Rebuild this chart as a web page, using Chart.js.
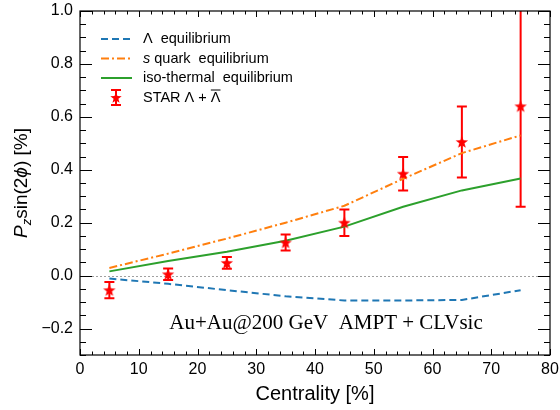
<!DOCTYPE html>
<html lang="en">
<head>
<meta charset="UTF-8">
<title>Pz sin(2phi) vs centrality</title>
<script src="https://cdn.jsdelivr.net/npm/chart.js@4.4.0/dist/chart.umd.min.js"></script>
<style>
  html, body { margin: 0; padding: 0; background: #fff; }
</style>
</head>
<body>
<canvas id="chart" width="560" height="410"></canvas>
<script>
// data
var centrality = [5, 15, 25, 35, 45, 55, 65, 75];
var lambdaEq = [-0.011, -0.031, -0.055, -0.078, -0.094, -0.094, -0.092, -0.055];
var sQuarkEq = [0.029, 0.083, 0.14, 0.2, 0.264, 0.366, 0.463, 0.53];
var isoThermalEq = [0.016, 0.055, 0.09, 0.132, 0.185, 0.26, 0.322, 0.367];
var starValues = [-0.055, 0.005, 0.048, 0.125, 0.2, 0.385, 0.505, 0.64];
var starErrors = [0.031, 0.022, 0.022, 0.03, 0.05, 0.063, 0.134, 0.38];
var xTickValues = [0, 10, 20, 30, 40, 50, 60, 70, 80];
var yTickValues = [-0.2, 0, 0.2, 0.4, 0.6, 0.8, 1.0];

var BLUE = '#1f77b4', ORANGE = '#ff7f0e', GREEN = '#2ca02c', RED = '#ff0000';
var SANS = '"Liberation Sans", Arial, sans-serif';
var SERIF = '"Liberation Serif", "Times New Roman", serif';

function pts(ys) {
  return centrality.map(function (x, i) { return { x: x, y: ys[i] }; });
}

function drawStar(ctx, cx, cy, r) {
  ctx.beginPath();
  for (var i = 0; i < 10; i++) {
    var rad = i % 2 === 0 ? r : r * 0.42;
    var a = -Math.PI / 2 + i * Math.PI / 5;
    var px = cx + rad * Math.cos(a), py = cy + rad * Math.sin(a);
    if (i === 0) ctx.moveTo(px, py); else ctx.lineTo(px, py);
  }
  ctx.closePath();
  ctx.fill();
}

// star marker as image for pointStyle
var starImg = document.createElement('canvas');
starImg.width = 14; starImg.height = 14;
(function () {
  var c = starImg.getContext('2d');
  c.fillStyle = RED;
  drawStar(c, 7, 7.5, 6.5);
})();

function errorBar(ctx, x, yTop, yBot) {
  ctx.beginPath();
  ctx.moveTo(x, yTop); ctx.lineTo(x, yBot);
  ctx.moveTo(x - 5, yTop); ctx.lineTo(x + 5, yTop);
  ctx.moveTo(x - 5, yBot); ctx.lineTo(x + 5, yBot);
  ctx.stroke();
}

function noPad(s) {
  s.paddingLeft = 0; s.paddingRight = 0; s.paddingTop = 0; s.paddingBottom = 0;
}

var decor = {
  id: 'decor',
  beforeDatasetsDraw: function (chart) {
    var ctx = chart.ctx, a = chart.chartArea;
    var xs = chart.scales.x, ys = chart.scales.y;
    ctx.save();
    // dotted zero line
    ctx.strokeStyle = '#a0a0a0';
    ctx.lineWidth = 1;
    ctx.setLineDash([2, 2]);
    var y0 = Math.round(ys.getPixelForValue(0)) + 0.5;
    ctx.beginPath(); ctx.moveTo(a.left, y0); ctx.lineTo(a.right, y0); ctx.stroke();
    ctx.setLineDash([]);
    // error bars
    ctx.beginPath(); ctx.rect(a.left, a.top, a.right - a.left, a.bottom - a.top); ctx.clip();
    ctx.strokeStyle = RED;
    ctx.lineWidth = 2;
    for (var i = 0; i < centrality.length; i++) {
      var px = xs.getPixelForValue(centrality[i]);
      errorBar(ctx, px, ys.getPixelForValue(starValues[i] + starErrors[i]),
        ys.getPixelForValue(starValues[i] - starErrors[i]));
    }
    ctx.restore();
  },
  afterDraw: function (chart) {
    var ctx = chart.ctx, a = chart.chartArea;
    var xs = chart.scales.x, ys = chart.scales.y;
    ctx.save();
    // frame
    ctx.strokeStyle = '#000';
    ctx.lineWidth = 1.2;
    ctx.strokeRect(a.left, a.top, a.right - a.left, a.bottom - a.top);
    // inward ticks on all four sides
    ctx.lineWidth = 1;
    ctx.beginPath();
    for (var v = 0; v <= 80; v += 2) {
      var px = Math.round(xs.getPixelForValue(v)) + 0.5;
      var len = v % 10 === 0 ? 6 : 3.5;
      ctx.moveTo(px, a.bottom); ctx.lineTo(px, a.bottom - len);
      ctx.moveTo(px, a.top); ctx.lineTo(px, a.top + len);
    }
    for (var k = -6; k <= 20; k++) {
      var val = k * 0.05;
      var py = Math.round(ys.getPixelForValue(val)) + 0.5;
      var l2 = k % 4 === 0 ? 12 : 6;
      ctx.moveTo(a.left, py); ctx.lineTo(a.left + l2, py);
      ctx.moveTo(a.right, py); ctx.lineTo(a.right - l2, py);
    }
    ctx.stroke();

    ctx.fillStyle = '#000';
    // x title
    ctx.font = '20px ' + SANS;
    ctx.textAlign = 'center';
    ctx.textBaseline = 'alphabetic';
    ctx.fillText('Centrality [%]', (a.left + a.right) / 2, 400);

    // y title with subscript and italic phi
    ctx.save();
    ctx.translate(27, 183);
    ctx.rotate(-Math.PI / 2);
    var parts = [
      { t: 'P', f: 'italic 19px ' + SANS, dy: 0 },
      { t: 'z', f: 'italic 13px ' + SANS, dy: 4 },
      { t: 'sin(2', f: '19px ' + SANS, dy: 0 },
      { t: '\u03d5', f: 'italic 19px ' + SANS, dy: 0 },
      { t: ') [%]', f: '19px ' + SANS, dy: 0 }
    ];
    var total = 0;
    parts.forEach(function (p) { ctx.font = p.f; p.w = ctx.measureText(p.t).width; total += p.w; });
    var cx = -total / 2;
    ctx.textAlign = 'left';
    parts.forEach(function (p) { ctx.font = p.f; ctx.fillText(p.t, cx, p.dy); cx += p.w; });
    ctx.restore();

    // annotation
    ctx.font = '21px ' + SERIF;
    ctx.textAlign = 'center';
    ctx.fillText('Au+Au@200 GeV  AMPT + CLVsic', 326, 329);

    // legend
    var lx0 = 101, lx1 = 132, tx = 143;
    var rows = [39, 58.5, 78, 97.5];
    ctx.lineWidth = 2;
    ctx.strokeStyle = BLUE; ctx.setLineDash([7, 4]);
    ctx.beginPath(); ctx.moveTo(lx0, rows[0]); ctx.lineTo(lx1, rows[0]); ctx.stroke();
    ctx.strokeStyle = ORANGE; ctx.setLineDash([8, 3, 2, 3]);
    ctx.beginPath(); ctx.moveTo(lx0, rows[1]); ctx.lineTo(lx1, rows[1]); ctx.stroke();
    ctx.strokeStyle = GREEN; ctx.setLineDash([]);
    ctx.beginPath(); ctx.moveTo(lx0, rows[2]); ctx.lineTo(lx1, rows[2]); ctx.stroke();
    ctx.strokeStyle = RED;
    errorBar(ctx, 116, rows[3] - 7.5, rows[3] + 7.5);
    ctx.fillStyle = RED;
    drawStar(ctx, 116, rows[3] + 0.5, 6);

    ctx.fillStyle = '#000';
    ctx.textAlign = 'left';
    ctx.textBaseline = 'middle';
    ctx.font = '14.5px ' + SANS;
    ctx.fillText('\u039b  equilibrium', tx, rows[0]);
    ctx.font = 'italic 14.5px ' + SANS;
    ctx.fillText('s', tx, rows[1]);
    var sw = ctx.measureText('s').width;
    ctx.font = '14.5px ' + SANS;
    ctx.fillText(' quark  equilibrium', tx + sw, rows[1]);
    ctx.fillText('iso-thermal  equilibrium', tx, rows[2]);
    var s1 = 'STAR \u039b + ';
    ctx.fillText(s1, tx, rows[3]);
    var w1 = ctx.measureText(s1).width;
    var wl = ctx.measureText('\u039b').width;
    ctx.fillText('\u039b', tx + w1, rows[3]);
    ctx.lineWidth = 1;
    ctx.strokeStyle = '#000';
    ctx.beginPath(); ctx.moveTo(tx + w1, rows[3] - 7.5); ctx.lineTo(tx + w1 + wl, rows[3] - 7.5); ctx.stroke();
    ctx.restore();
  }
};

new Chart(document.getElementById('chart'), {
  type: 'line',
  data: {
    datasets: [
      {
        label: 'STAR', data: pts(starValues), showLine: false,
        pointStyle: starImg, pointRadius: 7, pointHoverRadius: 7, order: 0
      },
      {
        label: 'Lambda equilibrium', data: pts(lambdaEq), borderColor: BLUE, borderWidth: 2,
        borderDash: [7, 4], pointRadius: 0, tension: 0, fill: false, order: 1
      },
      {
        label: 's quark equilibrium', data: pts(sQuarkEq), borderColor: ORANGE, borderWidth: 2,
        borderDash: [8, 3, 2, 3], pointRadius: 0, tension: 0, fill: false, order: 2
      },
      {
        label: 'iso-thermal equilibrium', data: pts(isoThermalEq), borderColor: GREEN, borderWidth: 2,
        pointRadius: 0, tension: 0, fill: false, order: 3
      }
    ]
  },
  options: {
    responsive: false,
    animation: false,
    events: [],
    layout: { padding: { top: 11, right: 10, left: 0, bottom: 0 } },
    plugins: { legend: { display: false }, tooltip: { enabled: false } },
    scales: {
      x: {
        type: 'linear', min: 0, max: 80,
        grid: { display: false, drawTicks: false },
        border: { display: false },
        afterFit: function (s) { s.height = 55; noPad(s); },
        afterBuildTicks: function (s) { s.ticks = xTickValues.map(function (v) { return { value: v }; }); },
        ticks: { color: '#000', padding: 5, font: { family: SANS, size: 16 }, maxRotation: 0 }
      },
      y: {
        type: 'linear', min: -0.3, max: 1.0,
        grid: { display: false, drawTicks: false },
        border: { display: false },
        afterFit: function (s) { s.width = 80; noPad(s); },
        afterBuildTicks: function (s) { s.ticks = yTickValues.map(function (v) { return { value: v }; }); },
        ticks: {
          color: '#000', padding: 7, font: { family: SANS, size: 16 },
          callback: function (v) { return v < 0 ? '\u2212' + Math.abs(v).toFixed(1) : v.toFixed(1); }
        }
      }
    }
  },
  plugins: [decor]
});
</script>
</body>
</html>
